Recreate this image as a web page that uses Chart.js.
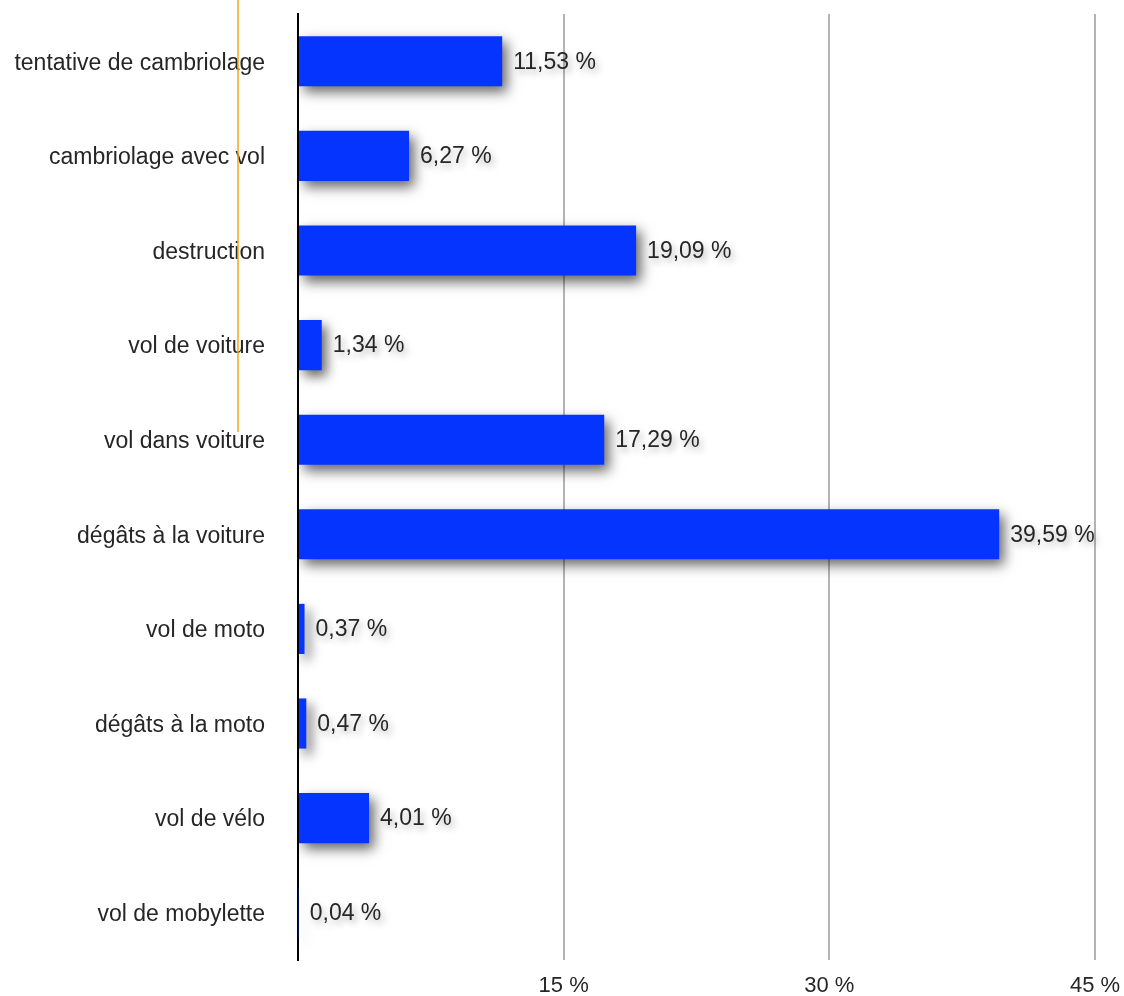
<!DOCTYPE html>
<html>
<head>
<meta charset="utf-8">
<script src="https://cdn.jsdelivr.net/npm/chart.js@4/dist/chart.umd.min.js"></script>
<style>
  html, body { margin: 0; padding: 0; background: #fff; }
  #wrap { width: 1124px; height: 996px; }
</style>
</head>
<body>
<div id="wrap"><canvas id="chart"></canvas></div>
<script>
// données
const categories = [
    'tentative de cambriolage', 'cambriolage avec vol', 'destruction', 'vol de voiture',
    'vol dans voiture', 'dégâts à la voiture', 'vol de moto', 'dégâts à la moto',
    'vol de vélo', 'vol de mobylette'
];
const pourcentages = [11.53, 6.27, 19.09, 1.34, 17.29, 39.59, 0.37, 0.47, 4.01, 0.04];
const xTicks = [0, 15, 30, 45];

const fontFamily = "'Helvetica Neue', 'Liberation Sans', Arial, sans-serif";
const formatPct = v => v.toFixed(2).replace('.', ',') + ' %';

// ombre portée sur les barres
const shadowPlugin = {
    id: 'barShadow',
    beforeDatasetsDraw(chart) {
        const ctx = chart.ctx;
        ctx.save();
        ctx.shadowColor = 'rgba(0,0,0,0.6)';
        ctx.shadowBlur = 12;
        ctx.shadowOffsetX = 5;
        ctx.shadowOffsetY = 6;
    },
    afterDatasetsDraw(chart) {
        chart.ctx.restore();
    }
};

// étiquettes de valeur à droite des barres
const valueLabels = {
    id: 'valueLabels',
    afterDatasetsDraw(chart) {
        const ctx = chart.ctx;
        const meta = chart.getDatasetMeta(0);
        ctx.save();
        ctx.font = '23px ' + fontFamily;
        ctx.fillStyle = '#262626';
        ctx.textAlign = 'left';
        ctx.textBaseline = 'middle';
        ctx.shadowColor = 'rgba(0,0,0,0.3)';
        ctx.shadowBlur = 7;
        ctx.shadowOffsetX = 3;
        ctx.shadowOffsetY = 4;
        meta.data.forEach((bar, i) => {
            ctx.fillText(formatPct(pourcentages[i]), bar.x + 11, bar.y + 1);
        });
        ctx.restore();
    }
};

// petit trait orange présent sur l'original
const orangeLine = {
    id: 'orangeLine',
    afterDraw(chart) {
        const ctx = chart.ctx;
        const area = chart.chartArea;
        ctx.save();
        ctx.strokeStyle = '#f5a623';
        ctx.lineWidth = 1.5;
        ctx.beginPath();
        ctx.moveTo(area.left - 60, 0);
        ctx.lineTo(area.left - 60, area.top + 418);
        ctx.stroke();
        ctx.restore();
    }
};

document.addEventListener('DOMContentLoaded', function () {
    const ctx = document.getElementById('chart').getContext('2d');
    new Chart(ctx, {
        type: 'bar',
        data: {
            labels: categories,
            datasets: [{
                data: pourcentages,
                backgroundColor: '#0534ff',
                borderWidth: 0,
                categoryPercentage: 1,
                barPercentage: 0.53
            }]
        },
        options: {
            indexAxis: 'y',
            responsive: true,
            maintainAspectRatio: false,
            animation: false,
            layout: { padding: { top: 14, right: 29, left: 0, bottom: 0 } },
            plugins: {
                legend: { display: false },
                tooltip: { enabled: false }
            },
            scales: {
                x: {
                    min: 0,
                    max: 45,
                    afterBuildTicks(scale) {
                        scale.ticks = xTicks.map(v => ({ value: v }));
                    },
                    afterFit(scale) {
                        scale.height = 36;
                        scale.paddingRight = 0;
                    },
                    grid: {
                        drawTicks: false,
                        lineWidth: 2,
                        color: c => c.tick && c.tick.value === 0 ? 'rgba(0,0,0,0)' : '#b4b4b4'
                    },
                    border: { display: false },
                    ticks: {
                        padding: 13,
                        color: '#262626',
                        font: { family: fontFamily, size: 22 },
                        callback: v => v === 0 ? '' : v + ' %'
                    }
                },
                y: {
                    afterFit(scale) {
                        scale.width = 298;
                        scale.paddingTop = 0;
                        scale.paddingBottom = 0;
                    },
                    grid: { display: false, drawTicks: false },
                    border: { display: true, color: '#000', width: 2 },
                    ticks: {
                        padding: 33,
                        labelOffset: 2,
                        color: '#262626',
                        font: { family: fontFamily, size: 23 }
                    }
                }
            }
        },
        plugins: [shadowPlugin, valueLabels, orangeLine]
    });
});
</script>
</body>
</html>
